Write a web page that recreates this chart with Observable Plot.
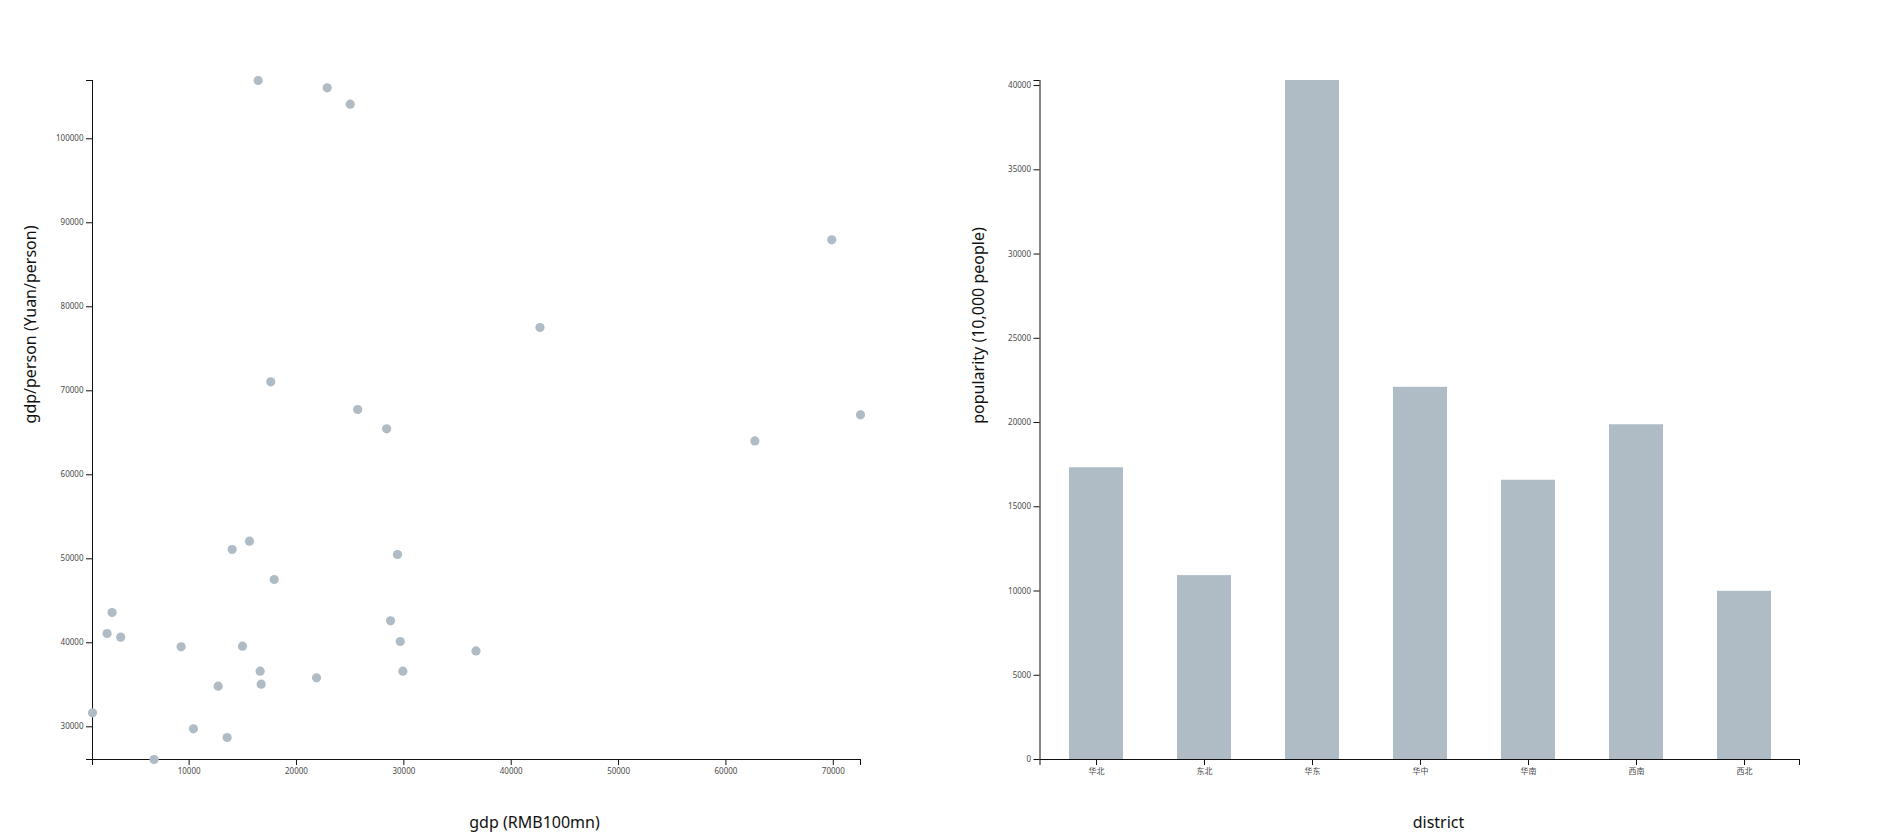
<!DOCTYPE html>
<html>
<head>
<meta charset="utf-8">
<script src="https://cdn.jsdelivr.net/npm/d3@7"></script>
<script src="https://cdn.jsdelivr.net/npm/@observablehq/plot@0.6"></script>
<style>
  html, body { margin: 0; padding: 0; background: #fff; }
  #wrap { display: flex; width: 1892px; height: 837px; }
  #wrap svg { display: block; }
</style>
</head>
<body>
<div id="wrap"></div>
<script>
// ---- data: provinces (GDP in RMB 100mn, GDP per person in Yuan) ----
const provinces = ["北京","天津","河北","山西","内蒙古","辽宁","吉林","黑龙江","上海","江苏","浙江","安徽","福建","江西","山东","河南","湖北","湖南","广东","广西","海南","重庆","四川","贵州","云南","西藏","陕西","甘肃","青海","宁夏","新疆"];
const gdp = [22861,16431,29665,12703,17605,28397,14007,14967,25005,69860,42680,21864,25703,16617,62694,36720,29413,28760,72535,16710,3625,15620,29907,10401,13541,1000,17922,6738,2358,2824,9254];
const gdpPerPerson = [106071,106940,40155,34833,71071,65476,51107,39595,104119,87976,77536,35833,67774,36619,64036,39036,50512,42619,67143,35071,40667,52095,36619,29762,28726,31667,47536,26107,41107,43607,39524];

// ---- data: districts (population, 10,000 people) ----
const districts = ["华北","东北","华东","华中","华南","西南","西北"];
const population = [17316,10914,40300,22090,16573,19869,9982];

// ---- tick labels ----
const gdpTicks = [10000,20000,30000,40000,50000,60000,70000];
const gdpPerPersonTicks = [30000,40000,50000,60000,70000,80000,90000,100000];
const populationTicks = [0,5000,10000,15000,20000,25000,30000,35000,40000];

// ---- axis titles ----
const scatterXLabel = "gdp (RMB100mn)";
const scatterYLabel = "gdp/person (Yuan/person)";
const barXLabel = "district";
const barYLabel = "popularity (10,000 people)";

const FONT = "'Segoe UI','Noto Sans','Noto Sans CJK SC',sans-serif";
const DOT = "#b0bcc5";
const TICKTXT = "#4a4a4a";
const fmt = d3.format("d");

const points = provinces.map((p, i) => ({province: p, gdp: gdp[i], gpp: gdpPerPerson[i]}));
const bars = districts.map((d, i) => ({district: d, pop: population[i]}));

const gdpExt = d3.extent(gdp);
const gppExt = d3.extent(gdpPerPerson);

const scatter = Plot.plot({
  width: 946, height: 837,
  marginTop: 80, marginBottom: 78, marginLeft: 92, marginRight: 86,
  style: {fontFamily: FONT, fontSize: "8px", color: "#111", background: "transparent", overflow: "visible"},
  x: {domain: gdpExt, label: null},
  y: {domain: gppExt, label: null},
  marks: [
    Plot.ruleX([gdpExt[0]], {stroke: "#111"}),
    Plot.ruleY([gppExt[0]], {stroke: "#111"}),
    Plot.axisX({ticks: gdpTicks, tickFormat: fmt, label: null, tickSize: 6, tickPadding: 3, fill: TICKTXT, stroke: "#111"}),
    Plot.axisX({ticks: gdpExt, tickFormat: () => "", label: null, tickSize: 6, stroke: "#111"}),
    Plot.axisY({ticks: gdpPerPersonTicks, tickFormat: fmt, label: null, tickSize: 6, tickPadding: 3, fill: TICKTXT, stroke: "#111"}),
    Plot.axisY({ticks: gppExt, tickFormat: () => "", label: null, tickSize: 6, stroke: "#111"}),
    Plot.dot(points, {x: "gdp", y: "gpp", r: 4.6, fill: DOT}),
    Plot.text([scatterXLabel], {text: d => d, frameAnchor: "top-left", dx: 442, dy: 742, fontSize: 16, fill: "#111", textAnchor: "middle", lineAnchor: "middle"}),
    Plot.text([scatterYLabel], {text: d => d, frameAnchor: "top-left", dx: -62, dy: 244, fontSize: 16, fill: "#111", textAnchor: "middle", lineAnchor: "middle", rotate: -90})
  ]
});

const popMax = d3.max(population);
const bar = Plot.plot({
  width: 946, height: 837,
  marginTop: 80, marginBottom: 78, marginLeft: 93.5, marginRight: 92,
  style: {fontFamily: FONT, fontSize: "8px", color: "#111", background: "transparent", overflow: "visible"},
  x: {domain: districts, paddingInner: 0.5, paddingOuter: 0.25, label: null},
  y: {domain: [0, popMax], label: null},
  marks: [
    Plot.barY(bars, {x: "district", y: "pop", fill: DOT}),
    Plot.ruleY([0], {stroke: "#111"}),
    Plot.axisX({label: null, tickSize: 6, tickPadding: 3, fill: TICKTXT, stroke: "#111"}),
    Plot.axisY({ticks: populationTicks, tickFormat: fmt, label: null, tickSize: 6, tickPadding: 3, fill: TICKTXT, stroke: "#111"}),
    Plot.axisY({ticks: [popMax], tickFormat: () => "", label: null, tickSize: 6, stroke: "#111"}),
    Plot.text([barXLabel], {text: d => d, frameAnchor: "top-left", dx: 398.5, dy: 742, fontSize: 16, fill: "#111", textAnchor: "middle", lineAnchor: "middle"}),
    Plot.text([barYLabel], {text: d => d, frameAnchor: "top-left", dx: -61.5, dy: 245, fontSize: 16, fill: "#111", textAnchor: "middle", lineAnchor: "middle", rotate: -90})
  ]
});

// domain line and outer ticks of the band axis, from the chart's own scales
{
  const xr = bar.scale("x").range;
  const yr = bar.scale("y").range;
  const x0 = Math.min(...xr), x1 = Math.max(...xr);
  const yb = Math.max(...yr), yt = Math.min(...yr);
  const g = d3.select(bar).append("g").attr("stroke", "#111").attr("fill", "none");
  g.append("path").attr("d", `M${x0 + 0.5},${yb}V${yt}`);
  g.append("path").attr("d", `M${x0 + 0.5},${yb}v6M${x1 - 0.5},${yb}v6`);
}

document.getElementById("wrap").append(scatter, bar);
</script>
</body>
</html>
